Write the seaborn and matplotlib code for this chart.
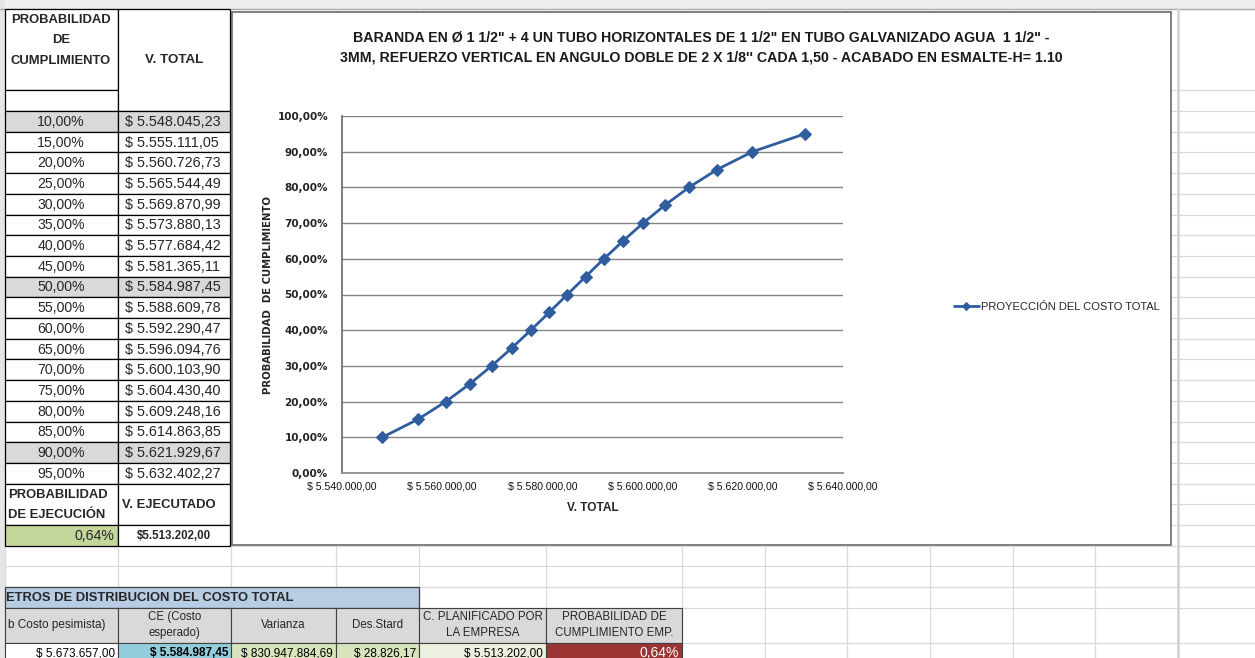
import matplotlib
matplotlib.use("Agg")
import matplotlib.pyplot as plt
from matplotlib.patches import Rectangle
from matplotlib.ticker import FuncFormatter, MultipleLocator
import seaborn as sns

# datos de la tabla de probabilidad
prob_cumplimiento = [0.10, 0.15, 0.20, 0.25, 0.30, 0.35, 0.40, 0.45, 0.50,
                     0.55, 0.60, 0.65, 0.70, 0.75, 0.80, 0.85, 0.90, 0.95]
v_total = [5548045.23, 5555111.05, 5560726.73, 5565544.49, 5569870.99,
           5573880.13, 5577684.42, 5581365.11, 5584987.45, 5588609.78,
           5592290.47, 5596094.76, 5600103.90, 5604430.40, 5609248.16,
           5614863.85, 5621929.67, 5632402.27]
filas_grises = [0.10, 0.50, 0.90]
prob_ejecucion = 0.0064
v_ejecutado = 5513202.00

# parametros de distribucion
dist_titulo = "ETROS DE DISTRIBUCION DEL COSTO TOTAL"
dist_headers = ["b Costo pesimista)", "CE (Costo\nesperado)", "Varianza", "Des.Stard",
                "C. PLANIFICADO POR\nLA EMPRESA", "PROBABILIDAD DE\nCUMPLIMIENTO EMP."]
dist_valores = [5673657.00, 5584987.45, 830947884.69, 28826.17, 5513202.00, 0.0064]

titulo = ('BARANDA EN Ø 1 1/2" + 4 UN TUBO HORIZONTALES DE 1 1/2" EN TUBO GALVANIZADO AGUA  1 1/2" -\n'
          '3MM, REFUERZO VERTICAL EN ANGULO DOBLE DE 2 X 1/8\'\' CADA 1,50 - ACABADO EN ESMALTE-H= 1.10')
serie = "PROYECCIÓN DEL COSTO TOTAL"


def dinero(v):
    s = f"{v:,.2f}"
    return s.replace(",", "X").replace(".", ",").replace("X", ".")


def porcentaje(p):
    return f"{p * 100:.2f}".replace(".", ",") + "%"


sns.set_theme(style="white")
plt.rcParams['font.family'] = ['Liberation Sans', 'DejaVu Sans']

W, H = 1255, 658
fig = plt.figure(figsize=(W / 100, H / 100), dpi=100)
bg = fig.add_axes([0, 0, 1, 1])
bg.set_xlim(0, W)
bg.set_ylim(H, 0)
bg.axis('off')


def celda(x0, x1, y0, y1, fc='white', ec='black', lw=0.9, z=3):
    bg.add_patch(Rectangle((x0, y0), x1 - x0, y1 - y0, fc=fc, ec=ec, lw=lw, zorder=z))


# --- cuadricula de la hoja ---
rh = 20.7
filas = [9, 90] + [111 + k * rh for k in range(25)] + [643, 664]
cols = [5, 118, 231, 336, 419, 546, 682, 765, 847, 930, 1013, 1095, 1178]
bg.add_patch(Rectangle((0, 0), W, 9, fc='#efefef', ec='none', zorder=1))
bg.add_patch(Rectangle((0, 0), 5, H, fc='#e6e6e6', ec='none', zorder=1))
bg.plot([0, W], [9, 9], color='#a6a6a6', lw=1, zorder=1)
for y in filas[1:]:
    bg.plot([5, W], [y, y], color='#d9d9d9', lw=0.9, zorder=1)
for x in cols:
    bg.plot([x, x], [9, H], color='#d9d9d9', lw=0.9, zorder=1)
bg.plot([1178, 1178], [9, H], color='#d4d4d4', lw=2, zorder=1)

# --- recuadro del grafico ---
bg.add_patch(Rectangle((232, 12), 939, 533, fc='white', ec='#6b6b6b', lw=1.2, zorder=2))
bg.text(701, 38, titulo.split('\n')[0], ha='center', va='center', fontsize=10.2,
        fontweight='bold', color='#1a1a1a', zorder=4)
bg.text(701, 58, titulo.split('\n')[1], ha='center', va='center', fontsize=10.2,
        fontweight='bold', color='#1a1a1a', zorder=4)

# --- tabla izquierda ---
A0, A1, B1 = 5, 118, 230
celda(A0, A1, 9, 90)
celda(A0, A1, 90, 111)
celda(A1, B1, 9, 111)
bg.text(61, 20, "PROBABILIDAD", ha='center', va='center', fontsize=9.4, fontweight='bold', zorder=4)
bg.text(61, 40, "DE", ha='center', va='center', fontsize=9.4, fontweight='bold', zorder=4)
bg.text(61, 61, "CUMPLIMIENTO", ha='center', va='center', fontsize=9.4, fontweight='bold', zorder=4)
bg.text(174, 60, "V. TOTAL", ha='center', va='center', fontsize=9.6, fontweight='bold', zorder=4)

for i, (p, v) in enumerate(zip(prob_cumplimiento, v_total)):
    y0 = 111 + i * rh
    fc = '#d9d9d9' if p in filas_grises else 'white'
    celda(A0, A1, y0, y0 + rh, fc=fc)
    celda(A1, B1, y0, y0 + rh, fc=fc)
    bg.text(61, y0 + rh / 2 + 0.5, porcentaje(p), ha='center', va='center', fontsize=10.2, zorder=4)
    bg.text(125, y0 + rh / 2 + 0.5, "$ " + dinero(v), ha='left', va='center', fontsize=10.4, zorder=4)

ye = 111 + 18 * rh
celda(A0, A1, ye, ye + 2 * rh)
celda(A1, B1, ye, ye + 2 * rh)
bg.text(8, ye + 11, "PROBABILIDAD", ha='left', va='center', fontsize=9.4, fontweight='bold', zorder=4)
bg.text(8, ye + 31, "DE EJECUCIÓN", ha='left', va='center', fontsize=9.4, fontweight='bold', zorder=4)
bg.text(122, ye + 21, "V. EJECUTADO", ha='left', va='center', fontsize=9.4, fontweight='bold', zorder=4)
yv = ye + 2 * rh
celda(A0, A1, yv, yv + rh, fc='#c4d79b')
celda(A1, B1, yv, yv + rh)
bg.text(114, yv + rh / 2 + 0.5, porcentaje(prob_ejecucion), ha='right', va='center', fontsize=10.2, zorder=4)
bg.text(174, yv + rh / 2 + 0.5, "$" + dinero(v_ejecutado), ha='center', va='center', fontsize=8.3,
        fontweight='bold', zorder=4)

# --- tabla inferior ---
tc = [5, 118, 231, 336, 419, 546, 682]
yt = 111 + 23 * rh
celda(5, 419, yt, yt + rh, fc='#b8cce4', ec='#404040')
bg.text(6, yt + rh / 2 + 0.5, dist_titulo, ha='left', va='center', fontsize=9.4, fontweight='bold', zorder=4)
yh0, yh1, yd1 = yt + rh, 643, 664
fill_datos = ['white', '#92cddc', '#d8e4bc', '#d8e4bc', '#ebf1de', '#9b3533']
for j, (hd, val) in enumerate(zip(dist_headers, dist_valores)):
    x0, x1 = tc[j], tc[j + 1]
    celda(x0, x1, yh0, yh1, fc='#d9d9d9', ec='#404040', lw=0.8)
    celda(x0, x1, yh1, yd1, fc=fill_datos[j], ec='#404040', lw=0.8)
    if j == 0:
        bg.text(8, (yh0 + yh1) / 2, hd, ha='left', va='center', fontsize=8.5, zorder=4)
    else:
        bg.text((x0 + x1) / 2, (yh0 + yh1) / 2, hd, ha='center', va='center', fontsize=8.3,
                linespacing=1.45, zorder=4)
    if j == len(dist_headers) - 1:
        txt, col, fw = porcentaje(val), 'white', 'normal'
    else:
        txt, col, fw = "$ " + dinero(val), 'black', 'normal'
        if j == 1:
            fw = 'bold'
    bg.text(x1 - 3, yh1 + 10, txt, ha='right', va='center', fontsize=8.5 if j < 5 else 10,
            color=col, fontweight=fw, zorder=4)

# --- grafico ---
L, R, T, B = 342, 843, 116, 473
ax = fig.add_axes([L / W, 1 - B / H, (R - L) / W, (B - T) / H])
ax.set_facecolor('none')
sns.lineplot(x=v_total, y=prob_cumplimiento, ax=ax, color='#2f5d9e', linewidth=2,
             marker='D', markersize=6.2, markeredgecolor='#2f5d9e', label=serie)
ax.set_xlim(5540000, 5640000)
ax.set_ylim(0, 1)
ax.xaxis.set_major_locator(MultipleLocator(20000))
ax.yaxis.set_major_locator(MultipleLocator(0.1))
ax.xaxis.set_major_formatter(FuncFormatter(lambda v, _: "$ " + dinero(v)))
ax.yaxis.set_major_formatter(FuncFormatter(lambda v, _: porcentaje(v)))
ax.grid(axis='y', color='#868686', lw=1)
ax.grid(axis='x', visible=False)
for s in ['top', 'right']:
    ax.spines[s].set_visible(False)
ax.spines['left'].set_color('#6e6e6e')
ax.spines['bottom'].set_color('#8c8c8c')
ax.tick_params(axis='y', length=0, pad=10, labelsize=7.5, labelcolor='#222222')
ax.tick_params(axis='x', length=0, pad=6, labelsize=7.6, labelcolor='#111111')
for t in ax.get_yticklabels():
    t.set_fontfamily('DejaVu Sans')
    t.set_fontweight('bold')
ax.set_xlabel("V. TOTAL", fontsize=8.6, fontweight='bold', labelpad=8)
ax.set_ylabel("PROBABILIDAD  DE CUMPLIMIENTO", fontsize=7.3, fontweight='bold',
              fontfamily='DejaVu Sans', labelpad=3)
ax.legend(loc='center left', bbox_to_anchor=(948 / W, 1 - 307 / H), bbox_transform=fig.transFigure,
          frameon=False, fontsize=8, handlelength=2.3, handletextpad=0.15, borderpad=0,
          markerscale=0.7)

fig.savefig("out.png", dpi=100)
